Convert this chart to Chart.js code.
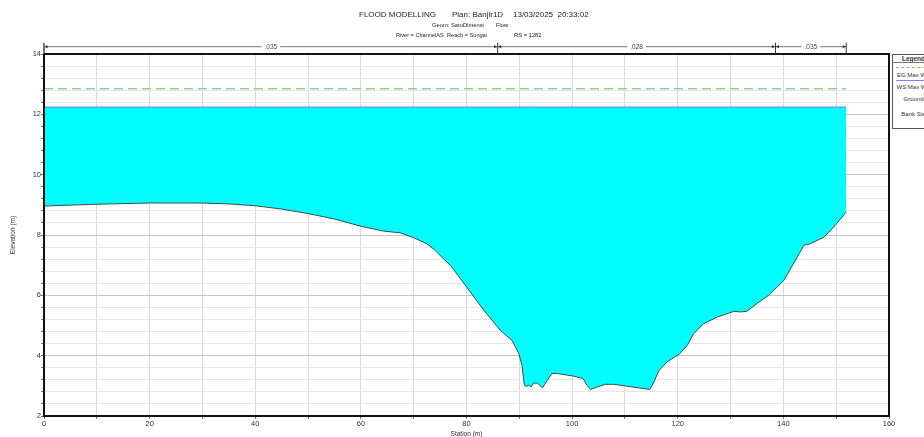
<!DOCTYPE html>
<html><head><meta charset="utf-8">
<script src="https://cdn.jsdelivr.net/npm/chart.js@4.4.1/dist/chart.umd.min.js"></script>
<style>
html,body{margin:0;padding:0;background:#fff;overflow:hidden;}
#wrap{position:relative;width:924px;height:437px;overflow:hidden;}
#c{position:absolute;left:0;top:0;}
.t{position:absolute;font-family:"Liberation Sans",Arial,sans-serif;color:#222;white-space:pre;line-height:1;}
#legend{position:absolute;left:892px;top:54px;width:41px;height:73px;border:1px solid #555;background:#fff;font-family:"Liberation Sans",Arial,sans-serif;color:#333;}
#legend div{position:absolute;left:0;width:41px;text-align:center;line-height:1;white-space:nowrap;}
</style></head><body>
<div id="wrap">
<canvas id="c" width="924" height="437"></canvas>
<div class="t" style="left:359px;top:11.4px;font-size:8px;">FLOOD MODELLING</div>
<div class="t" style="left:452px;top:11.4px;font-size:8px;">Plan: Banjir1D</div>
<div class="t" style="left:513px;top:11.4px;font-size:8px;">13/03/2025  20:33:02</div>
<div class="t" style="left:432px;top:22.6px;font-size:5.8px;">Geom: SatuDimensi</div>
<div class="t" style="left:496px;top:22.6px;font-size:5.8px;">Flow:</div>
<div class="t" style="left:396px;top:32.6px;font-size:5.6px;">River = ChannelAS</div>
<div class="t" style="left:447px;top:32.6px;font-size:5.6px;">Reach = Sungai</div>
<div class="t" style="left:514px;top:32.6px;font-size:5.8px;">RS = 1282</div>
<div id="legend">
  <div style="top:1px;font-size:6.5px;font-weight:bold;">Legend</div>
  <div style="top:7px;height:0;border-top:1px solid #777;"></div>
  <div style="top:12px;left:3px;width:35px;height:0;border-top:1px dashed #7cc87c;"></div>
  <div style="top:16.5px;font-size:6px;">EG Max WS</div>
  <div style="top:24.5px;left:3px;width:35px;height:0;border-top:1px solid #8080ff;"></div>
  <div style="top:28.5px;font-size:6px;">WS Max WS</div>
  <div style="top:40.5px;font-size:6px;">Ground</div>
  <div style="top:55.5px;font-size:6px;">Bank Sta</div>
</div>
</div>
<script>
// ---- data ----
const stations = [0,5,10,20,30,35,40,45,50,55,60,64.3,67.5,70,72.5,74,75.7,77,80,83.3,86.4,88.6,89.9,90.5,90.96,91.3,91.8,92.2,92.7,93.4,94.4,95.3,96.2,97.2,100.3,102.1,102.8,103.5,104.7,106.3,107.9,114.7,115.5,116.4,118.0,120.3,121.8,123.0,124.9,127.5,130.6,131.9,133.1,135.0,137.2,140.1,143.9,145.1,147.7,149.5,151.9];
const groundElev = [8.96,8.99,9.02,9.06,9.06,9.03,8.97,8.86,8.71,8.53,8.29,8.13,8.07,7.91,7.71,7.50,7.20,6.99,6.28,5.50,4.84,4.51,4.07,3.68,3.02,2.98,3.02,2.96,3.09,3.09,2.94,3.18,3.41,3.41,3.32,3.24,3.02,2.88,2.96,3.05,3.05,2.88,3.13,3.50,3.80,4.05,4.34,4.73,5.06,5.28,5.47,5.45,5.47,5.73,6.00,6.50,7.66,7.71,7.93,8.26,8.76];
const wsElev = 12.24;
const egElev = 12.85;
const nBreaks = [0, 85.9, 138.5, 151.9];
const nValues = ['.035', '.028', '.035'];
const xRange = [0, 160];
const yRange = [2, 14];

const groundPts = stations.map((x, i) => ({x, y: groundElev[i]}));
const wsPts = stations.map(x => ({x, y: wsElev}));
const egPts = [{x: stations[0], y: egElev}, {x: stations[stations.length-1], y: egElev}];

const isMajorY = v => Math.abs(v - Math.round(v)) < 1e-6 && Math.round(v) % 2 === 0;

const framePlugin = {
  id: 'frame',
  afterDraw(chart) {
    const ctx = chart.ctx, a = chart.chartArea, xs = chart.scales.x;
    ctx.save();
    ctx.strokeStyle = '#111';
    ctx.lineWidth = 2;
    ctx.strokeRect(a.left, a.top, a.right - a.left, a.bottom - a.top);
    ctx.lineWidth = 1.5;
    ctx.strokeStyle = '#444';
    ctx.beginPath(); ctx.moveTo(a.left, a.top); ctx.lineTo(a.left, a.top - 11); ctx.stroke();
    const y = 46.7;
    const px = nBreaks.map(v => xs.getPixelForValue(v));
    ctx.strokeStyle = '#777';
    ctx.lineWidth = 1;
    ctx.beginPath(); ctx.moveTo(px[0], y); ctx.lineTo(px[px.length-1], y); ctx.stroke();
    ctx.strokeStyle = '#333';
    for (let i = 1; i < px.length; i++) {
      ctx.beginPath(); ctx.moveTo(px[i], y - 4); ctx.lineTo(px[i], a.top); ctx.stroke();
    }
    ctx.fillStyle = '#333';
    const arrow = (x, dir) => {
      ctx.beginPath(); ctx.moveTo(x, y); ctx.lineTo(x - dir * 3, y - 1.6); ctx.lineTo(x - dir * 3, y + 1.6); ctx.closePath(); ctx.fill();
    };
    for (let i = 0; i < px.length - 1; i++) {
      arrow(px[i] + 0.5, -1);
      arrow(px[i + 1] - 0.5, 1);
    }
    ctx.font = '6.5px "Liberation Sans", Arial, sans-serif';
    ctx.textAlign = 'center';
    ctx.textBaseline = 'middle';
    for (let i = 0; i < nValues.length; i++) {
      const mx = (px[i] + px[i + 1]) / 2;
      const w = ctx.measureText(nValues[i]).width + 6;
      ctx.fillStyle = '#fff';
      ctx.fillRect(mx - w / 2, y - 3, w, 6);
      ctx.fillStyle = '#444';
      ctx.fillText(nValues[i], mx, y + 0.5);
    }
    ctx.restore();
  }
};

new Chart(document.getElementById('c'), {
  type: 'line',
  data: {
    datasets: [
      {label: 'EG Max WS', data: egPts, borderColor: '#8fd18f', borderWidth: 1.5, borderDash: [9, 5], pointRadius: 0, fill: false, order: 0},
      {label: 'WS Max WS', data: wsPts, borderColor: '#7070ff', borderWidth: 1, pointRadius: 0, fill: {target: 2}, backgroundColor: '#00ffff', order: 2},
      {label: 'Ground', data: groundPts, borderColor: '#3c4a4a', borderWidth: 1, pointRadius: 0, fill: false, order: 1, tension: 0}
    ]
  },
  options: {
    responsive: false,
    animation: false,
    layout: {padding: {left: 0, top: 54, right: 35, bottom: 0}},
    plugins: {legend: {display: false}, tooltip: {enabled: false}, title: {display: false}},
    scales: {
      x: {
        type: 'linear', min: xRange[0], max: xRange[1],
        afterFit: s => { s.height = 21; },
        border: {display: false},
        grid: {color: '#d8d8d8', lineWidth: 1, tickLength: 3, tickColor: '#777'},
        ticks: {stepSize: 10, autoSkip: false, maxRotation: 0, padding: 0, color: '#333',
          font: {family: '"Liberation Sans", Arial, sans-serif', size: 7.5},
          callback: v => (Math.round(v) % 20 === 0 ? String(Math.round(v)) : '')},
        title: {display: true, text: 'Station (m)', color: '#333', padding: 0,
          font: {family: '"Liberation Sans", Arial, sans-serif', size: 6.5, lineHeight: 1}}
      },
      y: {
        type: 'linear', min: yRange[0], max: yRange[1],
        afterFit: s => { s.width = 44; },
        border: {display: false},
        grid: {color: c => isMajorY(c.tick.value) ? '#c6c6c6' : '#e6e6e6', lineWidth: 1, tickLength: 3, tickColor: '#777'},
        ticks: {stepSize: 0.4, autoSkip: false, padding: 0, color: '#333',
          font: {family: '"Liberation Sans", Arial, sans-serif', size: 7.5},
          callback: v => (isMajorY(v) ? String(Math.round(v)) : '')},
        title: {display: true, text: 'Elevation (m)', color: '#333', padding: {top: 10, bottom: 0},
          font: {family: '"Liberation Sans", Arial, sans-serif', size: 6.5, lineHeight: 1}}
      }
    }
  },
  plugins: [framePlugin]
});
</script>
</body></html>
